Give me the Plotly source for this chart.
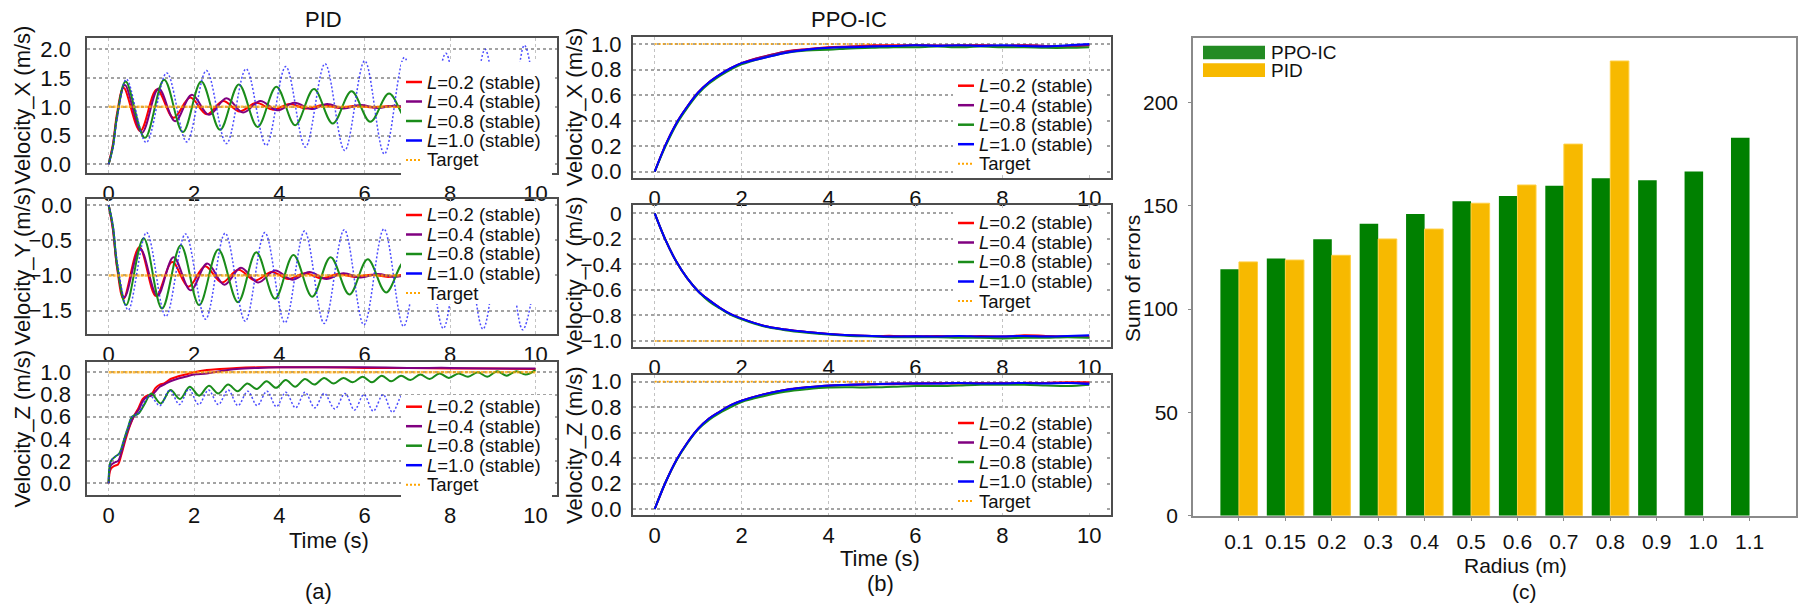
import plotly.graph_objects as go

W, H = 1802, 607

# ======================= DATA =======================
cable_lengths = ["0.2", "0.4", "0.8", "1.0"]
time_ticks = [0, 2, 4, 6, 8, 10]

# ---- PID, Velocity_X (extrema) ----
pid_x_red_t = [0, 0.1, 0.2, 0.35, 0.74, 1.13, 1.52, 1.91, 2.30, 2.68, 3.07, 3.46, 3.85, 4.24, 4.63, 5.02, 5.41, 5.80, 6.19, 6.58, 6.97, 7.36, 7.75, 8.14, 8.53, 8.92, 9.31, 9.70, 10.0]
pid_x_red_v = [0, 0.35, 0.90, 1.33, 0.58, 1.30, 0.81, 1.16, 0.87, 1.10, 0.92, 1.07, 0.95, 1.05, 0.97, 1.03, 0.98, 1.02, 0.99, 1.015, 0.99, 1.01, 0.995, 1.005, 0.995, 1.005, 0.998, 1.002, 1.0]
pid_x_purple_t = [0, 0.1, 0.2, 0.38, 0.78, 1.17, 1.56, 1.95, 2.35, 2.76, 3.15, 3.55, 3.95, 4.35, 4.75, 5.12, 5.50, 5.90, 6.30, 6.70, 7.10, 7.50, 7.90, 8.30, 8.70, 9.10, 9.50, 10.0]
pid_x_purple_v = [0, 0.32, 0.85, 1.38, 0.55, 1.32, 0.75, 1.21, 0.86, 1.15, 0.90, 1.10, 0.94, 1.07, 0.96, 1.05, 0.97, 1.03, 0.98, 1.02, 0.99, 1.015, 0.99, 1.01, 0.995, 1.005, 0.998, 1.0]
pid_x_green_t = [0, 0.1, 0.2, 0.40, 0.85, 1.30, 1.74, 2.17, 2.61, 3.05, 3.49, 3.93, 4.37, 4.81, 5.25, 5.69, 6.13, 6.57, 7.01, 7.45, 7.89, 8.33, 8.77, 9.21, 9.65, 10.0]
pid_x_green_v = [0, 0.30, 0.85, 1.44, 0.46, 1.47, 0.56, 1.44, 0.60, 1.39, 0.65, 1.35, 0.68, 1.31, 0.71, 1.27, 0.74, 1.23, 0.77, 1.21, 0.80, 1.19, 0.82, 1.17, 0.84, 1.05]
pid_x_blue_t = [0, 0.1, 0.2, 0.42, 0.88, 1.36, 1.83, 2.29, 2.76, 3.22, 3.69, 4.15, 4.61, 5.07, 5.53, 6.00, 6.46, 6.93, 7.40, 7.90, 8.36, 8.82, 9.28, 9.74, 10.0]
pid_x_blue_v = [0, 0.28, 0.80, 1.48, 0.38, 1.59, 0.39, 1.63, 0.36, 1.66, 0.33, 1.70, 0.30, 1.75, 0.24, 1.80, 0.18, 1.86, 0.12, 1.93, 0.06, 2.00, 0.00, 2.07, 1.10]

# ---- PID, Velocity_Y ----
pid_y_red_t = [0, 0.1, 0.2, 0.35, 0.72, 1.11, 1.49, 1.87, 2.26, 2.65, 3.04, 3.43, 3.82, 4.21, 4.60, 4.99, 5.38, 5.77, 6.16, 6.55, 6.94, 7.33, 7.72, 8.11, 8.50, 8.89, 9.28, 9.67, 10.0]
pid_y_red_v = [0, -0.35, -0.90, -1.33, -0.60, -1.29, -0.81, -1.16, -0.87, -1.10, -0.92, -1.07, -0.95, -1.05, -0.97, -1.04, -0.98, -1.02, -0.99, -1.02, -0.99, -1.01, -0.995, -1.005, -0.995, -1.005, -0.998, -1.002, -1.0]
pid_y_purple_t = [0, 0.1, 0.2, 0.37, 0.74, 1.14, 1.52, 1.92, 2.31, 2.71, 3.10, 3.50, 3.90, 4.30, 4.70, 5.10, 5.50, 5.90, 6.30, 6.70, 7.10, 7.50, 7.90, 8.30, 8.70, 9.10, 9.50, 10.0]
pid_y_purple_v = [0, -0.33, -0.88, -1.31, -0.62, -1.29, -0.74, -1.21, -0.83, -1.13, -0.89, -1.10, -0.93, -1.06, -0.95, -1.05, -0.97, -1.03, -0.98, -1.02, -0.99, -1.015, -0.99, -1.01, -0.995, -1.005, -0.998, -1.0]
pid_y_green_t = [0, 0.1, 0.2, 0.41, 0.82, 1.25, 1.69, 2.12, 2.57, 3.03, 3.46, 3.90, 4.33, 4.77, 5.20, 5.64, 6.07, 6.50, 6.94, 7.38, 7.82, 8.26, 8.70, 9.14, 9.58, 10.0]
pid_y_green_v = [0, -0.30, -0.85, -1.42, -0.47, -1.47, -0.57, -1.42, -0.63, -1.38, -0.67, -1.33, -0.71, -1.30, -0.74, -1.27, -0.77, -1.24, -0.80, -1.21, -0.82, -1.19, -0.84, -1.17, -0.86, -1.05]
pid_y_blue_t = [0, 0.1, 0.2, 0.46, 0.89, 1.34, 1.80, 2.27, 2.73, 3.20, 3.66, 4.13, 4.59, 5.05, 5.52, 5.98, 6.45, 6.91, 7.38, 7.84, 8.31, 8.77, 9.24, 9.70, 10.0]
pid_y_blue_v = [0, -0.28, -0.80, -1.49, -0.39, -1.58, -0.41, -1.62, -0.40, -1.65, -0.39, -1.67, -0.37, -1.68, -0.35, -1.70, -0.34, -1.72, -0.33, -1.75, -0.32, -1.76, -0.31, -1.77, -1.00]

# ---- PID, Velocity_Z ----
pid_z_t = [0, 0.05, 0.15, 0.22, 0.30, 0.40, 0.50, 0.60, 0.70, 0.80, 0.90, 1.00, 1.10, 1.20, 1.30, 1.45, 1.60, 1.80, 2.00, 2.30, 2.60, 3.00, 3.50, 4.00, 5.00, 6.00, 7.00, 8.00, 9.00, 10.0]
pid_z_red_v = [0, 0.13, 0.16, 0.17, 0.26, 0.40, 0.52, 0.61, 0.68, 0.76, 0.79, 0.80, 0.86, 0.89, 0.90, 0.94, 0.96, 0.98, 1.00, 1.02, 1.03, 1.04, 1.045, 1.045, 1.045, 1.04, 1.04, 1.035, 1.035, 1.03]
pid_z_purple_v = [0, 0.16, 0.19, 0.20, 0.28, 0.42, 0.53, 0.61, 0.66, 0.74, 0.78, 0.79, 0.83, 0.87, 0.89, 0.92, 0.94, 0.96, 0.98, 0.99, 1.01, 1.03, 1.04, 1.045, 1.045, 1.045, 1.04, 1.04, 1.035, 1.035]
pid_z_green_t = [0, 0.05, 0.15, 0.25, 0.35, 0.45, 0.55, 0.70, 0.85, 1.00, 1.22, 1.45, 1.67, 1.90, 2.12, 2.35, 2.57, 2.80, 3.02, 3.25, 3.47, 3.70, 3.92, 4.15, 4.37, 4.60, 4.82, 5.05, 5.27, 5.50, 5.72, 5.95, 6.17, 6.40, 6.62, 6.85, 7.07, 7.30, 7.52, 7.75, 7.97, 8.20, 8.42, 8.65, 8.87, 9.10, 9.32, 9.55, 9.77, 10.0]
pid_z_green_v = [0, 0.20, 0.24, 0.27, 0.38, 0.50, 0.60, 0.63, 0.72, 0.81, 0.72, 0.84, 0.76, 0.87, 0.79, 0.88, 0.81, 0.89, 0.83, 0.90, 0.85, 0.92, 0.86, 0.93, 0.87, 0.94, 0.89, 0.95, 0.90, 0.95, 0.91, 0.96, 0.91, 0.97, 0.92, 0.97, 0.93, 0.98, 0.94, 0.99, 0.95, 0.99, 0.96, 1.00, 0.96, 1.01, 0.97, 1.01, 0.98, 1.02]
pid_z_blue_t = [0, 0.05, 0.15, 0.25, 0.35, 0.45, 0.55, 0.70, 0.85, 0.97, 1.20, 1.43, 1.66, 1.88, 2.11, 2.34, 2.57, 2.80, 3.03, 3.26, 3.48, 3.71, 3.93, 4.15, 4.38, 4.60, 4.83, 5.05, 5.30, 5.54, 5.76, 5.98, 6.20, 6.43, 6.65, 6.88, 7.10, 7.33, 7.56, 7.79, 8.01, 8.24, 8.47, 8.70, 8.92, 9.15, 9.38, 9.60, 9.83, 10.0]
pid_z_blue_v = [0, 0.20, 0.24, 0.27, 0.38, 0.50, 0.60, 0.63, 0.74, 0.79, 0.70, 0.84, 0.71, 0.85, 0.71, 0.84, 0.71, 0.84, 0.70, 0.83, 0.70, 0.83, 0.69, 0.82, 0.68, 0.82, 0.68, 0.81, 0.67, 0.81, 0.66, 0.80, 0.65, 0.80, 0.64, 0.79, 0.63, 0.76, 0.62, 0.76, 0.61, 0.75, 0.60, 0.75, 0.59, 0.74, 0.58, 0.74, 0.57, 0.66]

pid_target_t = [0, 10]

# ---- PPO-IC ----
ppo_t = [0, 0.25, 0.5, 0.75, 1.0, 1.25, 1.5, 1.75, 2.0, 2.5, 3.0, 3.5, 4.0, 4.5, 5.0, 5.5, 6.0, 6.5, 7.0, 7.5, 8.0, 8.5, 9.0, 9.5, 10.0]
ppo_x_red_v = [0, 0.21, 0.38, 0.51, 0.62, 0.70, 0.76, 0.81, 0.85, 0.90, 0.94, 0.96, 0.975, 0.98, 0.99, 0.99, 0.99, 0.985, 0.99, 0.99, 0.985, 0.99, 0.985, 0.98, 0.99]
ppo_x_purple_v = [0, 0.21, 0.38, 0.51, 0.62, 0.70, 0.76, 0.81, 0.85, 0.90, 0.94, 0.96, 0.97, 0.98, 0.985, 0.98, 0.99, 0.99, 0.985, 0.99, 0.985, 0.99, 0.985, 0.985, 0.99]
ppo_x_green_v = [0, 0.20, 0.37, 0.50, 0.61, 0.69, 0.75, 0.80, 0.84, 0.89, 0.93, 0.95, 0.955, 0.965, 0.97, 0.975, 0.975, 0.98, 0.975, 0.98, 0.975, 0.975, 0.97, 0.97, 0.975]
ppo_x_blue_v = [0, 0.21, 0.38, 0.51, 0.62, 0.70, 0.76, 0.81, 0.85, 0.89, 0.93, 0.955, 0.97, 0.975, 0.98, 0.985, 0.99, 0.985, 0.99, 0.985, 0.99, 0.985, 0.98, 0.99, 1.0]

ppo_y_red_v = [0, -0.21, -0.38, -0.51, -0.61, -0.68, -0.74, -0.79, -0.825, -0.88, -0.91, -0.93, -0.945, -0.955, -0.96, -0.96, -0.965, -0.96, -0.965, -0.96, -0.965, -0.955, -0.96, -0.965, -0.965]
ppo_y_purple_v = [0, -0.21, -0.38, -0.51, -0.61, -0.68, -0.74, -0.79, -0.825, -0.88, -0.91, -0.93, -0.945, -0.955, -0.96, -0.965, -0.96, -0.965, -0.965, -0.97, -0.965, -0.96, -0.965, -0.965, -0.97]
ppo_y_green_v = [0, -0.21, -0.38, -0.51, -0.61, -0.69, -0.745, -0.795, -0.83, -0.885, -0.915, -0.935, -0.95, -0.96, -0.965, -0.97, -0.97, -0.97, -0.975, -0.975, -0.98, -0.975, -0.975, -0.97, -0.975]
ppo_y_blue_v = [0, -0.21, -0.38, -0.51, -0.61, -0.68, -0.74, -0.79, -0.825, -0.88, -0.91, -0.93, -0.945, -0.955, -0.96, -0.965, -0.965, -0.965, -0.96, -0.965, -0.965, -0.96, -0.965, -0.96, -0.955]

ppo_z_red_v = [0, 0.21, 0.385, 0.52, 0.63, 0.71, 0.765, 0.815, 0.85, 0.90, 0.935, 0.955, 0.97, 0.975, 0.98, 0.985, 0.985, 0.99, 0.985, 0.99, 0.985, 0.99, 0.99, 0.995, 0.995]
ppo_z_purple_v = [0, 0.21, 0.385, 0.52, 0.63, 0.71, 0.765, 0.815, 0.85, 0.90, 0.935, 0.955, 0.965, 0.975, 0.98, 0.98, 0.985, 0.985, 0.99, 0.985, 0.99, 0.985, 0.99, 0.99, 0.99]
ppo_z_green_v = [0, 0.21, 0.38, 0.515, 0.625, 0.70, 0.755, 0.80, 0.84, 0.885, 0.92, 0.94, 0.953, 0.955, 0.955, 0.96, 0.965, 0.965, 0.97, 0.975, 0.975, 0.975, 0.97, 0.965, 0.975]
ppo_z_blue_v = [0, 0.21, 0.385, 0.52, 0.63, 0.71, 0.765, 0.815, 0.85, 0.90, 0.935, 0.955, 0.97, 0.975, 0.98, 0.985, 0.985, 0.985, 0.99, 0.985, 0.985, 0.99, 0.985, 0.99, 0.98]

ppo_target_t = [0, 5]

# ---- (c) sum of errors ----
radius_labels = ["0.1", "0.15", "0.2", "0.3", "0.4", "0.5", "0.6", "0.7", "0.8", "0.9", "1.0", "1.1"]
ppo_ic_errors = [119.2, 124.4, 133.8, 141.3, 146.0, 152.1, 154.7, 159.7, 163.3, 162.3, 166.6, 182.9]
pid_errors = [122.8, 123.7, 126.0, 133.9, 138.7, 151.2, 160.0, 179.8, 220.0, None, None, None]
error_ticks = [0, 50, 100, 150, 200]

# ======================= STYLE =======================
FONT = "Liberation Sans, Arial, Helvetica, sans-serif"
C_RED = "#ff0000"
C_PURPLE = "#800080"
C_GREEN = "#1a8c1a"
C_BLUE = "#0000ff"
C_BLUE_DOT = "rgba(45,45,255,0.85)"
C_TARGET = "#ffa500"
BAR_GREEN = "#008000"
BAR_YELLOW = "#f7b900"
TXT = "#111111"


def px_x(p):
    return p / W


def px_y(p):
    return 1 - p / H


fig = go.Figure()
layout = {}
shapes = []
annotations = []

A_X = (87.3, 556.8)
B_X = (633, 1111)

panels = [
    dict(n=1, xb=A_X, yb=(38, 173), yr=[-0.151, 2.197],
         ytv=[0, 0.5, 1.0, 1.5, 2.0], ytt=["0.0", "0.5", "1.0", "1.5", "2.0"],
         ytitle="Velocity_X (m/s)", tx=22, pid=True, tsize=22, tstand=10,
         series=[(pid_x_red_t, pid_x_red_v), (pid_x_purple_t, pid_x_purple_v),
                 (pid_x_green_t, pid_x_green_v), (pid_x_blue_t, pid_x_blue_v)],
         tgt=(pid_target_t, 1.0), leg=(401, 552, 62, 176, 82)),
    dict(n=2, xb=A_X, yb=(199, 334), yr=[-1.83, 0.085],
         ytv=[0, -0.5, -1.0, -1.5], ytt=["0.0", "\u22120.5", "\u22121.0", "\u22121.5"],
         ytitle="Velocity_Y (m/s)", tx=22, pid=True, tsize=22, tstand=9,
         series=[(pid_y_red_t, pid_y_red_v), (pid_y_purple_t, pid_y_purple_v),
                 (pid_y_green_t, pid_y_green_v), (pid_y_blue_t, pid_y_blue_v)],
         tgt=(pid_target_t, -1.0), leg=(401, 552, 203, 304, 215)),
    dict(n=3, xb=A_X, yb=(362, 495), yr=[-0.105, 1.093],
         ytv=[0, 0.2, 0.4, 0.6, 0.8, 1.0], ytt=["0.0", "0.2", "0.4", "0.6", "0.8", "1.0"],
         ytitle="Velocity_Z (m/s)", tx=22, pid=True, tsize=22, tstand=10,
         series=[(pid_z_t, pid_z_red_v), (pid_z_t, pid_z_purple_v),
                 (pid_z_green_t, pid_z_green_v), (pid_z_blue_t, pid_z_blue_v)],
         tgt=(pid_target_t, 1.0), leg=(401, 552, 395, 498, 406.7)),
    dict(n=4, xb=B_X, yb=(37, 178), yr=[-0.05, 1.055],
         ytv=[0, 0.2, 0.4, 0.6, 0.8, 1.0], ytt=["0.0", "0.2", "0.4", "0.6", "0.8", "1.0"],
         ytitle="Velocity_X (m/s)", tx=574, pid=False, tsize=22, tstand=5,
         series=[(ppo_t, ppo_x_red_v), (ppo_t, ppo_x_purple_v),
                 (ppo_t, ppo_x_green_v), (ppo_t, ppo_x_blue_v)],
         tgt=(ppo_target_t, 1.0), leg=(953, 1105, 74, 175, 85.7)),
    dict(n=5, xb=B_X, yb=(205, 347), yr=[-1.047, 0.065],
         ytv=[0, -0.2, -0.4, -0.6, -0.8, -1.0],
         ytt=["0", "\u22120.2", "\u22120.4", "\u22120.6", "\u22120.8", "\u22121.0"],
         ytitle="Velocity_Y (m/s)", tx=574, pid=False, tsize=21, tstand=5,
         series=[(ppo_t, ppo_y_red_v), (ppo_t, ppo_y_purple_v),
                 (ppo_t, ppo_y_green_v), (ppo_t, ppo_y_blue_v)],
         tgt=(ppo_target_t, -1.0), leg=(953, 1105, 211, 312, 223)),
    dict(n=6, xb=B_X, yb=(375, 515), yr=[-0.047, 1.052],
         ytv=[0, 0.2, 0.4, 0.6, 0.8, 1.0], ytt=["0.0", "0.2", "0.4", "0.6", "0.8", "1.0"],
         ytitle="Velocity_Z (m/s)", tx=574, pid=False, tsize=22, tstand=5,
         series=[(ppo_t, ppo_z_red_v), (ppo_t, ppo_z_purple_v),
                 (ppo_t, ppo_z_green_v), (ppo_t, ppo_z_blue_v)],
         tgt=(ppo_target_t, 1.0), leg=(953, 1105, 411, 512, 423)),
]

series_colors = [C_RED, C_PURPLE, C_GREEN, C_BLUE]
ROW_STEP = 19.5

for p in panels:
    n = p["n"]
    xa = "x" if n == 1 else f"x{n}"
    ya = "y" if n == 1 else f"y{n}"
    layout[f"xaxis{n}"] = dict(
        domain=[px_x(p["xb"][0]), px_x(p["xb"][1])], anchor=ya, range=[-0.5, 10.5],
        tickvals=time_ticks, ticktext=[str(v) for v in time_ticks],
        showline=True, linecolor="#4d4d4d", linewidth=2, mirror=True,
        showgrid=True, gridcolor="#c2c2c2", gridwidth=1, griddash="dot",
        zeroline=False, ticks="", ticklen=0, ticklabelstandoff=0,
        tickfont=dict(family=FONT, size=22, color=TXT))
    layout[f"yaxis{n}"] = dict(
        domain=[px_y(p["yb"][1]), px_y(p["yb"][0])], anchor=xa, range=p["yr"],
        tickvals=p["ytv"], ticktext=p["ytt"],
        showline=True, linecolor="#4d4d4d", linewidth=2, mirror=True,
        showgrid=True, gridcolor="#a3a3a3", gridwidth=1.5, griddash="dot",
        zeroline=False, ticks="", ticklen=0, ticklabelstandoff=p["tstand"],
        tickfont=dict(family=FONT, size=p["tsize"], color=TXT))

    for i, (tt, vv) in enumerate(p["series"]):
        if p["pid"] and i == 3:
            line = dict(color=C_BLUE_DOT, width=1.5, dash="2px,2px", shape="spline", smoothing=1)
        else:
            line = dict(color=series_colors[i], width=2, shape="spline", smoothing=1)
        fig.add_trace(go.Scatter(x=tt, y=vv, mode="lines", line=line,
                                 name=f"L={cable_lengths[i]} (stable)",
                                 xaxis=xa, yaxis=ya, showlegend=False))
    tgt_t, tgt_v = p["tgt"]
    if p["pid"]:
        tline = dict(color="rgba(255,165,0,0.75)", width=2.5, dash="3px,1px")
    else:
        tline = dict(color=C_TARGET, width=1.6, dash="2px,2px")
    fig.add_trace(go.Scatter(x=tgt_t, y=[tgt_v] * len(tgt_t), mode="lines", line=tline,
                             name="Target", xaxis=xa, yaxis=ya, showlegend=False))

    # y-axis title
    annotations.append(dict(text=p["ytitle"], xref="paper", yref="paper",
                            x=px_x(p["tx"]), y=px_y((p["yb"][0] + p["yb"][1]) / 2),
                            textangle=-90, showarrow=False, xanchor="center", yanchor="middle",
                            font=dict(family=FONT, size=22, color=TXT)))

    # legend (matplotlib-style white box inside the axes)
    lx0, lx1, ly0, ly1, row0 = p["leg"]
    shapes.append(dict(type="rect", xref="paper", yref="paper", layer="above",
                       x0=px_x(lx0), x1=px_x(lx1), y0=px_y(ly1), y1=px_y(ly0),
                       fillcolor="white", line=dict(width=0)))
    labels = [f"<i>L</i>={c} (stable)" for c in cable_lengths] + ["Target"]
    sw0 = lx0 + 5
    for k, lab in enumerate(labels):
        ry = row0 + k * ROW_STEP
        if k < 4:
            sl = dict(color=series_colors[k], width=2.5)
        else:
            sl = dict(color=C_TARGET, width=2, dash="2px,2px")
        shapes.append(dict(type="line", xref="paper", yref="paper", layer="above",
                           x0=px_x(sw0), x1=px_x(sw0 + 16), y0=px_y(ry), y1=px_y(ry), line=sl))
        annotations.append(dict(text=lab, xref="paper", yref="paper",
                                x=px_x(sw0 + 19), y=px_y(ry), showarrow=False,
                                xanchor="left", yanchor="middle",
                                font=dict(family=FONT, size=18.5, color=TXT)))

# ---- panel titles & labels (a),(b) ----
for txt, x, y in [("PID", 323, 20), ("PPO-IC", 849, 20),
                  ("Time (s)", 329, 540), ("Time (s)", 880, 558),
                  ("(a)", 318, 591), ("(b)", 880, 583)]:
    annotations.append(dict(text=txt, xref="paper", yref="paper", x=px_x(x), y=px_y(y),
                            showarrow=False, xanchor="center", yanchor="middle",
                            font=dict(family=FONT, size=22, color=TXT)))

# ---- (c) bar chart ----
fig.add_trace(go.Bar(x=radius_labels, y=ppo_ic_errors, name="PPO-IC",
                     marker=dict(color=BAR_GREEN, line=dict(width=0)),
                     xaxis="x7", yaxis="y7", showlegend=False))
fig.add_trace(go.Bar(x=radius_labels, y=pid_errors, name="PID",
                     marker=dict(color=BAR_YELLOW, line=dict(color="#ffcf40", width=1)),
                     xaxis="x7", yaxis="y7", showlegend=False))
layout["xaxis7"] = dict(domain=[px_x(1193), px_x(1795.5)], anchor="y7", type="category",
                        range=[-0.99, 11.99], showline=True, linecolor="#8a8a8a", linewidth=1.5,
                        mirror=True, showgrid=False, zeroline=False, ticks="outside", ticklen=4,
                        tickcolor="#8a8a8a", ticklabelstandoff=2,
                        tickfont=dict(family=FONT, size=21, color=TXT))
layout["yaxis7"] = dict(domain=[px_y(515.7), px_y(38.3)], anchor="x7", range=[0, 231],
                        tickvals=error_ticks, ticktext=[str(v) for v in error_ticks],
                        showline=True, linecolor="#8a8a8a", linewidth=1.5, mirror=True,
                        showgrid=False, zeroline=False, ticks="outside", ticklen=3,
                        tickcolor="#8a8a8a", ticklabelstandoff=6,
                        tickfont=dict(family=FONT, size=21, color=TXT))
# (c) legend
for k, (lab, col) in enumerate([("PPO-IC", "#238b23"), ("PID", BAR_YELLOW)]):
    y0 = 45.7 + k * 17.6
    shapes.append(dict(type="rect", xref="paper", yref="paper", layer="above",
                       x0=px_x(1203), x1=px_x(1265), y0=px_y(y0 + 13.6), y1=px_y(y0),
                       fillcolor=col, line=dict(width=0)))
    annotations.append(dict(text=lab, xref="paper", yref="paper", x=px_x(1269), y=px_y(y0 + 6.8),
                            showarrow=False, xanchor="left", yanchor="middle",
                            font=dict(family=FONT, size=19, color=TXT)))
annotations.append(dict(text="Sum of errors", xref="paper", yref="paper", x=px_x(1132), y=px_y(279),
                        textangle=-90, showarrow=False, xanchor="center", yanchor="middle",
                        font=dict(family=FONT, size=21, color=TXT)))
for txt, x, y in [("Radius (m)", 1515, 565), ("(c)", 1524, 591)]:
    annotations.append(dict(text=txt, xref="paper", yref="paper", x=px_x(x), y=px_y(y),
                            showarrow=False, xanchor="center", yanchor="middle",
                            font=dict(family=FONT, size=21, color=TXT)))

fig.update_layout(
    template="none", width=W, height=H, autosize=False,
    margin=dict(l=0, r=0, t=0, b=0),
    paper_bgcolor="white", plot_bgcolor="white",
    barmode="group", bargap=0.2, bargroupgap=0,
    showlegend=False, shapes=shapes, annotations=annotations,
    font=dict(family=FONT, color=TXT),
    **layout)

fig.write_html("out.html",
               config={"displayModeBar": False},
               post_script="document.body.style.margin='0';document.body.style.padding='0';"
                           "document.body.style.overflow='hidden';")
